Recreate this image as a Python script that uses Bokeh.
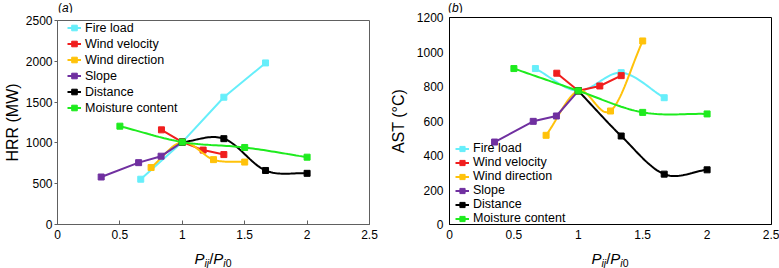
import numpy as np
from bokeh.plotting import figure
from bokeh.layouts import row, column
from bokeh.models import Range1d, FixedTicker, NumeralTickFormatter, Legend, LegendItem, Div
from bokeh.embed import file_html
from bokeh.resources import INLINE

# ---------------- data ----------------
series_names = ["Fire load", "Wind velocity", "Wind direction", "Slope", "Distance", "Moisture content"]
series_colors = ["#66EEFA", "#F01E1E", "#FFC20A", "#7030A0", "#000000", "#1EEB1E"]

fire_x = [0.667, 1.0, 1.333, 1.667]
vel_x = [0.833, 1.0, 1.167, 1.333]
dir_x = [0.75, 1.0, 1.25, 1.5]
slope_x = [0.35, 0.65, 0.83, 1.0]
dist_x = [1.0, 1.333, 1.667, 2.0]
moist_x = [0.5, 1.0, 1.5, 2.0]

# (a) HRR (MW)
hrr_fire = [555, 1010, 1560, 1980]
hrr_vel = [1160, 1010, 912, 857]
hrr_dir = [698, 1010, 795, 765]
hrr_slope = [582, 758, 837, 1010]
hrr_dist = [1010, 1052, 662, 627]
hrr_moist = [1205, 1010, 944, 825]

# (b) AST (°C)
ast_fire = [904, 775, 880, 735]
ast_vel = [877, 775, 803, 863]
ast_dir = [517, 775, 658, 1064]
ast_slope = [478, 598, 629, 775]
ast_dist = [775, 513, 292, 317]
ast_moist = [904, 775, 650, 641]

x_ticks = [0, 0.5, 1, 1.5, 2, 2.5]
hrr_ticks = [0, 500, 1000, 1500, 2000, 2500]
ast_ticks = [0, 200, 400, 600, 800, 1000, 1200]

FONT = "Liberation Sans"


def smooth(xs, ys, n=24):
    x = np.asarray(xs, float)
    y = np.asarray(ys, float)
    m = np.empty_like(y)
    m[0] = (y[1] - y[0]) / (x[1] - x[0])
    m[-1] = (y[-1] - y[-2]) / (x[-1] - x[-2])
    m[1:-1] = (y[2:] - y[:-2]) / (x[2:] - x[:-2])
    X, Y = [], []
    for k in range(len(x) - 1):
        h = x[k + 1] - x[k]
        t = np.linspace(0, 1, n, endpoint=(k == len(x) - 2))
        h00 = 2 * t**3 - 3 * t**2 + 1
        h10 = t**3 - 2 * t**2 + t
        h01 = -2 * t**3 + 3 * t**2
        h11 = t**3 - t**2
        X.extend(x[k] + t * h)
        Y.extend(h00 * y[k] + h10 * h * m[k] + h01 * y[k + 1] + h11 * h * m[k + 1])
    return X, Y


def xtitle_div(width, frame_left, frame_w):
    sub = "font-size:10.5px;position:relative;top:3px;"
    html = (f'<div style="margin-left:{frame_left}px;width:{frame_w}px;text-align:center;'
            f'font-family:\'{FONT}\';font-size:15px;line-height:18px;padding-top:2px;'
            f'white-space:nowrap;color:#000;">'
            f'<i>P</i><span style="{sub}"><i>ij</i></span>/<i>P</i>'
            f'<span style="{sub}"><i>i</i>0</span></div>')
    return Div(text=html, width=width, height=20, margin=0)


def tag_div(width, height, left, letter, line_h):
    html = (f'<div style="margin-left:{left}px;font-family:\'{FONT}\';font-size:12px;'
            f'line-height:{line_h}px;white-space:nowrap;color:#000;">(<i>{letter}</i>)</div>')
    return Div(text=html, width=width, height=height, margin=0)


def panel(ys, smooth_flags, y_end, y_ticks, ylab, width, height, bl, br, bt,
          y_tick_out, x_tick_in, y_standoff, label_standoff, legend_xy, label_h, spacing, axis_col):
    p = figure(width=width, height=height, x_range=Range1d(0, 2.5), y_range=Range1d(0, y_end),
               output_backend="svg", toolbar_location=None,
               min_border_left=bl, min_border_right=br, min_border_top=bt, min_border_bottom=24)
    p.grid.visible = False
    p.outline_line_color = axis_col
    p.outline_line_width = 1
    p.background_fill_color = "white"
    p.border_fill_color = "white"

    xa = p.xaxis[0]
    xa.ticker = FixedTicker(ticks=x_ticks)
    xa.formatter = NumeralTickFormatter(format="0.[0]")
    xa.major_tick_in = x_tick_in
    xa.major_tick_out = 0
    xa.minor_tick_line_color = None
    xa.major_label_standoff = 5
    xa.major_label_text_font = FONT
    xa.major_label_text_font_size = "12px"
    xa.major_label_text_color = "#000000"
    xa.axis_line_color = axis_col
    xa.major_tick_line_color = axis_col

    ya = p.yaxis[0]
    ya.ticker = FixedTicker(ticks=y_ticks)
    ya.major_tick_out = y_tick_out
    ya.major_tick_in = 0
    ya.minor_tick_line_color = None
    ya.major_label_standoff = y_standoff
    ya.major_label_text_font = FONT
    ya.major_label_text_font_size = "12px"
    ya.major_label_text_color = "#000000"
    ya.axis_line_color = axis_col
    ya.major_tick_line_color = axis_col
    ya.axis_label = ylab
    ya.axis_label_text_font = FONT
    ya.axis_label_text_font_style = "normal"
    ya.axis_label_text_font_size = "16px"
    ya.axis_label_standoff = label_standoff
    ya.axis_label_text_color = "#000000"

    items = []
    for name, col, xs, yv, sm in zip(series_names, series_colors,
                                     [fire_x, vel_x, dir_x, slope_x, dist_x, moist_x], ys, smooth_flags):
        lx, ly = smooth(xs, yv) if sm else (xs, yv)
        r1 = p.line(lx, ly, line_color=col, line_width=2)
        r2 = p.scatter(xs, yv, marker="square", size=6, fill_color=col, line_color=col)
        items.append(LegendItem(label=name, renderers=[r1, r2]))

    leg = Legend(items=items, location=legend_xy, padding=0, margin=0, spacing=spacing,
                 label_height=label_h, glyph_height=label_h, glyph_width=14, label_standoff=4,
                 label_text_font=FONT, label_text_font_size="12.5px", label_text_color="#000000",
                 border_line_color=None, background_fill_alpha=0)
    p.add_layout(leg)
    return p


pa = panel([hrr_fire, hrr_vel, hrr_dir, hrr_slope, hrr_dist, hrr_moist],
           [False, False, True, False, True, True],
           2500, hrr_ticks, "HRR (MW)", 385, 236, 57, 16, 8,
           3, 4, 2, 2, (10, 109), 15, 1, "#606060")

pb = panel([ast_fire, ast_vel, ast_dir, ast_slope, ast_dist, ast_moist],
           [True, False, True, False, True, True],
           1200, ast_ticks, "AST (°C)", 394, 236, 64, 8, 5,
           0, 0, 6, 7, (6, -1), 13, -1, "#000000")

ta = tag_div(385, 12, 58, "a", 12)
tb = tag_div(394, 12, 63, "b", 10)
da = xtitle_div(385, 57, 312)
db = xtitle_div(394, 64, 322)

layout = row(column(ta, pa, da), column(tb, pb, db))
open("out.html", "w").write(file_html(layout, INLINE))
